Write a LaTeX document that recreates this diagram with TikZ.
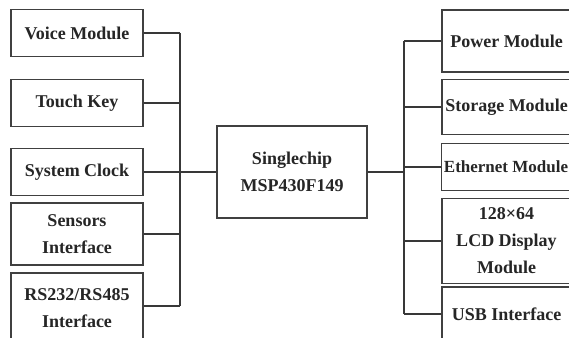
\documentclass[tikz,border=0pt]{standalone}
\usepackage{fontspec}
\setmainfont{Liberation Serif}
\begin{document}
\begin{tikzpicture}[x=1pt,y=-1pt,
  box/.style={draw=black!75, line width=1.6pt, fill=white, align=center, inner sep=0pt,
    font=\fontsize{18}{27}\selectfont\bfseries, text=black!85},
  conn/.style={draw=black!78, line width=1.8pt}]
\useasboundingbox (0,0) rectangle (569,337);
\clip (0,0) rectangle (569,337);
% left column
\node[box, minimum width=132, minimum height=47] (voice) at (77,33) {Voice Module};
\node[box, minimum width=132, minimum height=47] (touch) at (77,103) {Touch Key};
\node[box, minimum width=132, minimum height=47] (clock) at (77,172) {System Clock};
\node[box, minimum width=132, minimum height=62] (sens) at (77,234) {Sensors\\Interface};
\node[box, minimum width=132, minimum height=70] (rs) at (77,308) {RS232/RS485\\Interface};
% centre
\node[box, minimum width=150, minimum height=92, line width=1.3pt] (chip) at (292,172) {Singlechip\\MSP430F149};
% right column
\node[box, minimum width=129, minimum height=62] (power) at (506.5,41) {Power Module};
\node[box, minimum width=129, minimum height=55] (stor) at (506.5,107) {Storage Module};
\node[box, minimum width=129, minimum height=47, font=\fontsize{17}{27}\selectfont\bfseries] (eth) at (506,167) {Ethernet Module};
\node[box, minimum width=129, minimum height=85] (lcd) at (506.5,241) {128×64\\LCD Display\\Module};
\node[box, minimum width=129, minimum height=54] (usb) at (506.5,314) {USB Interface};
% buses
\coordinate (lbus) at (180,0);
\coordinate (rbus) at (404,0);
\foreach \n in {voice,touch,clock,sens}
  \draw[conn] (\n.east) -- (\n.east -| lbus);
\draw[conn] (rs.east |- 0,306) -- (lbus |- 0,306);
\draw[conn] (voice.east -| lbus) -- (lbus |- 0,306);
\draw[conn] (lbus |- chip.west) -- (chip.west);
\foreach \n in {power,stor,eth,lcd,usb}
  \draw[conn] (\n.west) -- (\n.west -| rbus);
\draw[conn] (power.west -| rbus) -- (usb.west -| rbus);
\draw[conn] (chip.east) -- (chip.east -| rbus);
\end{tikzpicture}
\end{document}
